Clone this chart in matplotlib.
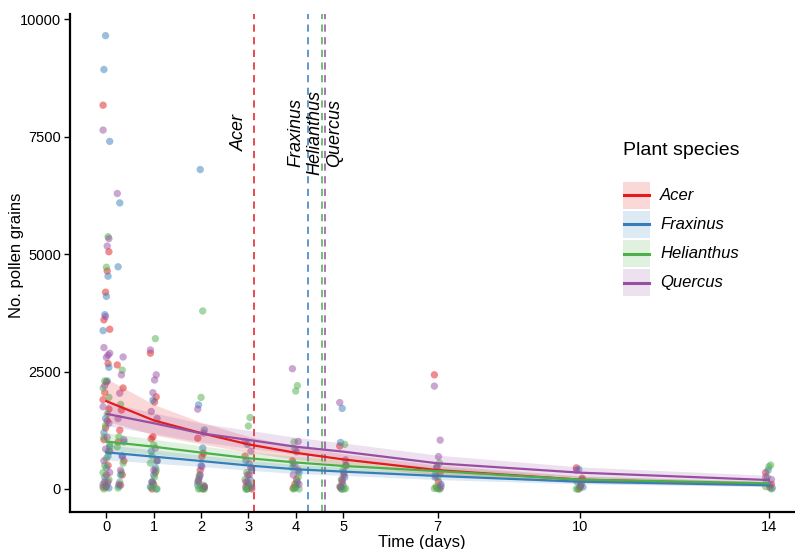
import numpy as np
import matplotlib
matplotlib.use("Agg")
import matplotlib.pyplot as plt
from matplotlib.patches import Rectangle

plt.rcParams['font.family'] = ['Liberation Sans', 'DejaVu Sans']

species = ["Acer", "Fraxinus", "Helianthus", "Quercus"]
colors = ["#E41A1C", "#377EB8", "#4DAF4A", "#984EA3"]

times = [0, 0.3, 1, 2, 3, 4, 5, 7, 10, 14]

acer_counts = [
    [8170, 5050, 4640, 4190, 3600, 3400, 2670, 2280, 2050, 1900, 1700, 1450, 1300, 1050, 800, 500, 300, 150, 40],
    [2640, 2150, 1680, 1250, 1000, 600, 300, 80],
    [2890, 1960, 1850, 1110, 1070, 600, 350, 100, 0],
    [1080, 760, 690, 400, 200, 50, 0],
    [700, 450, 300, 150, 50, 0],
    [600, 400, 200, 100, 20],
    [915, 500, 300, 150, 30],
    [2430, 350, 150, 20],
    [450, 230, 80, 0],
    [350, 100, 30],
]
fraxinus_counts = [
    [9650, 8930, 7400, 4530, 4100, 3710, 3370, 2590, 2300, 1500, 1200, 900, 700, 450, 250, 100, 20],
    [6090, 4730, 1000, 700, 300, 60],
    [1890, 800, 600, 450, 300, 150, 50, 0],
    [6800, 1790, 1255, 870, 500, 250, 80, 10],
    [950, 600, 400, 200, 80, 0],
    [850, 550, 350, 150, 30],
    [1715, 990, 500, 250, 80, 0],
    [450, 300, 100, 10],
    [420, 150, 40],
    [400, 150, 20],
]
helianthus_counts = [
    [5370, 4720, 2300, 2150, 1950, 1600, 1350, 1100, 950, 800, 650, 500, 350, 200, 100, 30, 0],
    [2530, 1800, 1110, 900, 550, 350, 150, 20],
    [3200, 940, 700, 550, 400, 250, 120, 30, 0],
    [3790, 1950, 300, 150, 80, 30, 10, 0, 0],
    [1520, 1340, 350, 200, 80, 20, 0, 0],
    [2200, 2085, 1000, 450, 250, 100, 20, 0, 0],
    [950, 400, 200, 50, 10, 0, 0],
    [550, 250, 50, 10, 0, 0],
    [100, 30, 0, 0],
    [510, 475, 250, 50, 0],
]
quercus_counts = [
    [7640, 5330, 5170, 3670, 3010, 2890, 2850, 2800, 2200, 1750, 1400, 1100, 850, 600, 350, 150, 50],
    [6290, 2810, 2430, 2040, 1500, 1050, 700, 400, 100],
    [2960, 2430, 2320, 2050, 1650, 1500, 870, 400, 150],
    [1700, 1190, 475, 300, 150, 50],
    [1010, 800, 550, 300, 150, 40],
    [2560, 1010, 790, 500, 300, 100],
    [1840, 620, 350, 200, 50],
    [2190, 1040, 690, 475, 250, 50],
    [400, 200, 50],
    [260, 200, 80],
]
all_counts = [acer_counts, fraxinus_counts, helianthus_counts, quercus_counts]

# fitted curves and confidence ribbons (read at these times)
fit_times = [0, 1, 2, 3, 4, 5, 7, 10, 14]
acer_fit = [1870, 1460, 1190, 950, 770, 630, 400, 200, 100]
acer_lo = [1450, 1150, 960, 780, 630, 510, 300, 130, 60]
acer_hi = [2350, 1800, 1420, 1120, 910, 750, 510, 280, 150]
fraxinus_fit = [780, 688, 596, 500, 420, 370, 277, 156, 80]
fraxinus_lo = [620, 550, 480, 400, 330, 290, 200, 110, 50]
fraxinus_hi = [940, 830, 720, 610, 520, 460, 350, 210, 120]
helianthus_fit = [1010, 900, 775, 655, 565, 490, 380, 200, 120]
helianthus_lo = [830, 740, 640, 540, 460, 400, 290, 150, 80]
helianthus_hi = [1200, 1060, 920, 790, 700, 620, 470, 270, 170]
quercus_fit = [1600, 1400, 1185, 1045, 900, 795, 546, 348, 190]
quercus_lo = [1350, 1180, 1000, 870, 740, 640, 420, 250, 120]
quercus_hi = [1850, 1620, 1400, 1250, 1100, 980, 720, 470, 290]
fits = [(acer_fit, acer_lo, acer_hi), (fraxinus_fit, fraxinus_lo, fraxinus_hi),
        (helianthus_fit, helianthus_lo, helianthus_hi), (quercus_fit, quercus_lo, quercus_hi)]

# estimated days for each species (dashed lines)
vline_x = [3.11, 4.27, 4.56, 4.61]
vlabel_x = [2.82, 4.00, 4.41, 4.83]

fig = plt.figure(figsize=(7.95, 5.49), dpi=100)
ax = fig.add_axes([0.088, 0.0674, 0.912, 0.907])

# points
for k, (counts, col) in enumerate(zip(all_counts, colors)):
    xs, ys = [], []
    for t, vals in zip(times, counts):
        for i, v in enumerate(vals):
            off = (((i * 7 + k * 3) % 9) / 8.0 - 0.5) * 0.14
            xs.append(t + off)
            ys.append(v)
    ax.scatter(xs, ys, s=28, color=col, alpha=0.5, edgecolors='none', zorder=2)

# ribbons and lines
for (fit, lo, hi), col in zip(fits, colors):
    ax.fill_between(fit_times, lo, hi, color=col, alpha=0.17, linewidth=0, zorder=3)
for (fit, lo, hi), col in zip(fits, colors):
    ax.plot(fit_times, fit, color=col, lw=1.6, zorder=4)

# dashed vertical lines
for xv, xl, col, name in zip(vline_x, vlabel_x, colors, species):
    ax.axvline(xv, color=col, lw=1.3, ls=(0, (4, 3)), alpha=0.85, zorder=1)
    ax.text(xl, 7580, name, rotation=90, style='italic', fontsize=13,
            ha='center', va='center', zorder=5)

ax.set_xlim(-0.77, 14.55)
ax.set_ylim(-490, 10110)
ax.set_xticks([0, 1, 2, 3, 4, 5, 7, 10, 14])
ax.set_yticks([0, 2500, 5000, 7500, 10000])
ax.tick_params(axis='both', labelsize=10.5, length=4, width=1, colors='black')
ax.tick_params(axis='x', pad=2)
ax.tick_params(axis='y', pad=2.5)
ax.set_xlabel("Time (days)", fontsize=12)
ax.set_ylabel("No. pollen grains", fontsize=12)
ax.xaxis.set_label_coords(0.5 - (0.5 * 725 - (422 - 70)) / 725, -0.046)
ax.yaxis.set_label_coords(-0.063, 0.5 - (255 - (512 - 249)) / 498)
for side in ['top', 'right']:
    ax.spines[side].set_visible(False)
for side in ['left', 'bottom']:
    ax.spines[side].set_linewidth(1.6)

# legend (drawn in axes fraction)
ax_w, ax_h = 725.0, 498.0
key_w, key_h = 27 / ax_w, 27 / ax_h
x0 = (623 - 70) / ax_w
for i, (name, col) in enumerate(zip(species, colors)):
    yc = (512 - (195 + 29.3 * i)) / ax_h
    ax.add_patch(Rectangle((x0, yc - key_h / 2), key_w, key_h, transform=ax.transAxes,
                           facecolor=col, alpha=0.17, edgecolor='none', clip_on=False, zorder=5))
    ax.plot([x0 + 1 / ax_w, x0 + key_w - 1 / ax_w], [yc, yc], transform=ax.transAxes,
            color=col, lw=2.2, clip_on=False, zorder=6)
    ax.text((660 - 70) / ax_w, yc, name, transform=ax.transAxes, fontsize=12,
            style='italic', ha='left', va='center')
ax.text(x0, (512 - 150) / ax_h, "Plant species", transform=ax.transAxes, fontsize=14,
        ha='left', va='center')

fig.savefig("out.png", dpi=100)
